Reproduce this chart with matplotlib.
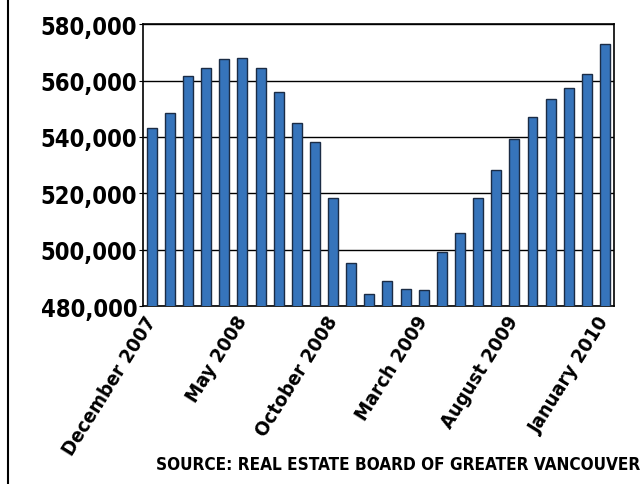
import matplotlib.pyplot as plt
import matplotlib.transforms as mtransforms
from matplotlib.ticker import FuncFormatter
from matplotlib.lines import Line2D

plt.rcParams['font.family'] = ['DejaVu Sans']
plt.rcParams['font.stretch'] = 'condensed'

months = ['December 2007', 'January 2008', 'February 2008', 'March 2008', 'April 2008',
          'May 2008', 'June 2008', 'July 2008', 'August 2008', 'September 2008',
          'October 2008', 'November 2008', 'December 2008', 'January 2009',
          'February 2009', 'March 2009', 'April 2009', 'May 2009', 'June 2009',
          'July 2009', 'August 2009', 'September 2009', 'October 2009',
          'November 2009', 'December 2009', 'January 2010']
prices = [543000, 548600, 561700, 564600, 567600, 567900, 564600, 556100, 545000,
          538200, 518200, 495400, 484100, 488800, 486000, 485700, 499300, 506000,
          518500, 528400, 539200, 547100, 553600, 557200, 562400, 573100]
shown = [0, 5, 10, 15, 20, 25]

fig = plt.figure(figsize=(6.43, 4.85), dpi=100)
ax = fig.add_axes([0.222, 0.367, 0.733, 0.581])

x = list(range(len(months)))
ax.bar(x, prices, width=0.55, color='#3674bb', edgecolor='#1b2c45', linewidth=1.0, zorder=3)

ax.set_ylim(480000, 580000)
ax.set_xlim(-0.5, len(months) - 0.5)
ax.set_yticks(range(480000, 580001, 20000))
ax.yaxis.set_major_formatter(FuncFormatter(lambda v, p: f'{int(v):,}'))
ax.grid(axis='y', color='black', linewidth=1.0, zorder=0)

ax.set_xticks(shown)
ax.set_xticklabels([months[i] for i in shown], rotation=58, ha='right', va='center',
                   rotation_mode='anchor', fontsize=14.5, fontweight='bold')
shift = mtransforms.ScaledTranslation(-10 / 100, 0, fig.dpi_scale_trans)
for lab in ax.get_xticklabels():
    lab.set_transform(lab.get_transform() + shift)
for lab in ax.get_yticklabels():
    lab.set_fontsize(17)
    lab.set_fontweight('bold')
ax.tick_params(axis='y', length=3, pad=1)
ax.tick_params(axis='x', length=0, pad=8)
for s in ax.spines.values():
    s.set_linewidth(1.2)

fig.text(0.995, 0.022, 'SOURCE: REAL ESTATE BOARD OF GREATER VANCOUVER',
         ha='right', va='bottom', fontsize=12.3, fontweight='bold')
fig.add_artist(Line2D([0.012, 0.012], [0, 1], transform=fig.transFigure,
                      color='black', linewidth=1.5))

fig.savefig('out.png', dpi=100)
